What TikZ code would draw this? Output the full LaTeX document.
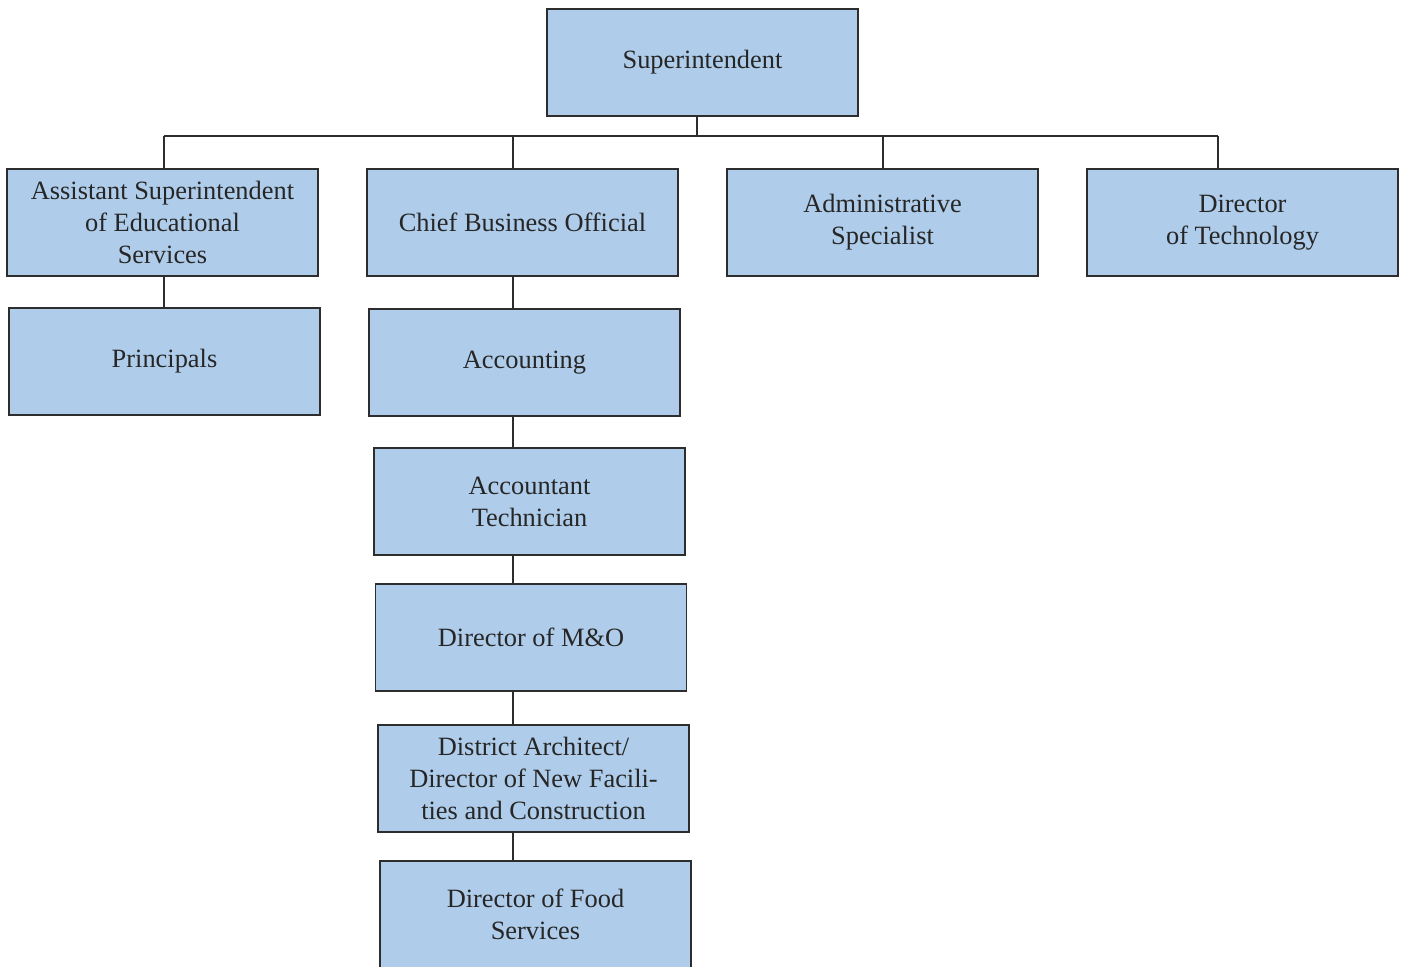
\documentclass[tikz,border=0pt]{standalone}
\usepackage{fontspec}
\setmainfont{Liberation Serif}
\definecolor{boxblue}{RGB}{175,205,234}
\definecolor{edgegray}{RGB}{45,45,45}
\tikzset{
  post/.style={draw=edgegray, line width=0.7pt, fill=boxblue,
    minimum width=155.5pt, minimum height=53.5pt, inner sep=0pt,
    align=center, text=black!85, font=\fontsize{13.2}{16}\selectfont},
  link/.style={draw=edgegray, line width=0.7pt}
}

\begin{document}
\begin{tikzpicture}[x=0.5pt, y=-0.5pt]
\useasboundingbox (0,0) rectangle (1401,967);
\clip (0,0) rectangle (1401,967);
% top of the chart
\node[post] (supt) at (702.5,62.5) {Superintendent};
% second level
\node[post] (asst) at (162.5,222.5) {Assistant Superintendent\\of Educational\\Services};
\node[post] (chief) at (522.5,222.5) {Chief Business Official};
\node[post] (admin) at (882.5,222.5) {Administrative\\Specialist};
\node[post] (tech) at (1242.5,222.5) {Director\\of Technology};
% below the assistant superintendent
\node[post] (princ) at (164.5,361.5) {Principals};
% business column
\node[post] (acct) at (524.5,362.5) {Accounting};
\node[post] (actech) at (529.5,501.5) {Accountant\\Technician};
\node[post] (mo) at (531,637.5) {Director of M\&O};
\node[post] (arch) at (533.5,778.5) {District Architect/\\Director of New Facili-\\ties and Construction};
\node[post] (food) at (535.5,914.5) {Director of Food\\Services};

% bus line
\coordinate (jS) at (697,136);
\coordinate (jA) at (164,136);
\coordinate (jB) at (513,136);
\coordinate (jC) at (883,136);
\coordinate (jD) at (1218,136);
\draw[link] (jA) -- (jD);
\draw[link] (supt.south -| jS) -- (jS);
\foreach \j/\n in {jA/asst, jB/chief, jC/admin, jD/tech}
  \draw[link] (\j) -- (\j |- \n.north);
\draw[link] (asst.south -| jA) -- (princ.north -| jA);
\foreach \a/\b in {chief/acct, acct/actech, actech/mo, mo/arch, arch/food}
  \draw[link] (\a.south -| jB) -- (\b.north -| jB);
\end{tikzpicture}
\end{document}
